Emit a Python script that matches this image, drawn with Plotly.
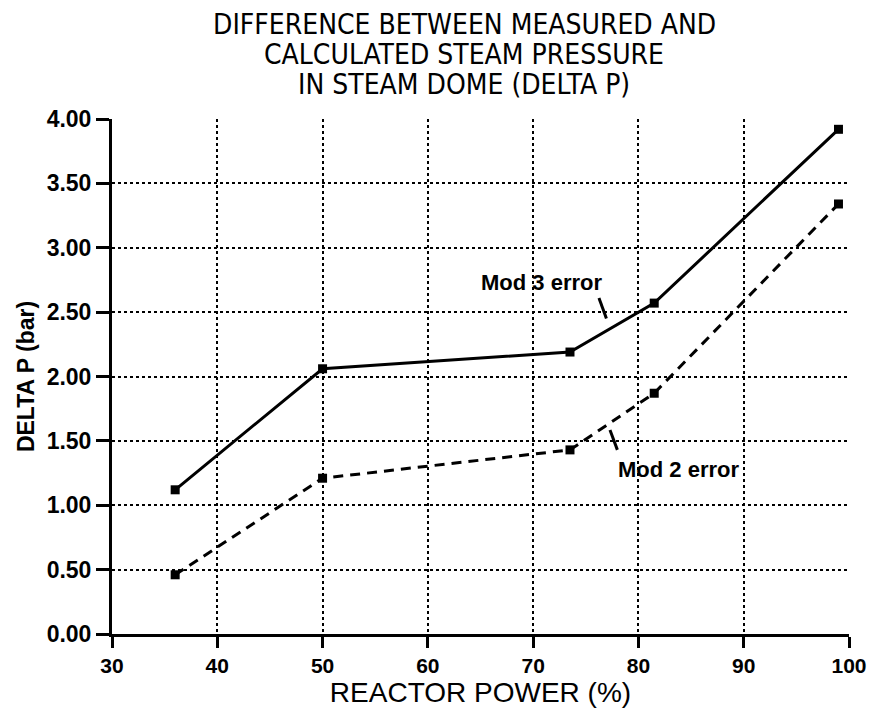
import plotly.graph_objects as go

# ---- data ----
reactor_power = [36.0, 50.0, 73.5, 81.5, 99.0]
mod3_error = [1.12, 2.06, 2.19, 2.57, 3.92]
mod2_error = [0.46, 1.21, 1.43, 1.87, 3.34]

x_ticks = [30, 40, 50, 60, 70, 80, 90, 100]
y_ticks = [0.0, 0.5, 1.0, 1.5, 2.0, 2.5, 3.0, 3.5, 4.0]

title_lines = ["DIFFERENCE BETWEEN MEASURED AND",
               "CALCULATED STEAM PRESSURE",
               "IN STEAM DOME (DELTA P)"]

label_text = ["Mod 3 error", "Mod 2 error"]
label_pos = [(70.8, 2.73), (83.8, 1.28)]
pointer_lines = [((76.25, 2.61), (76.96, 2.45)), ((77.3, 1.585), (78.0, 1.43))]

SANS = "Liberation Sans, Arial"
NARROW = "Liberation Sans Narrow, DejaVu Sans Condensed, Liberation Sans, Arial"

# page body has an 8px margin: figure is sized/offset to compensate
W, H = 870, 705
ML, MR, MT, MB = 104, 29, 111, 79
plot_h = H - MT - MB

fig = go.Figure()
fig.add_trace(go.Scatter(x=reactor_power, y=mod3_error, mode="lines+markers",
                         line=dict(color="black", width=3),
                         marker=dict(symbol="square", size=9, color="black"),
                         name="Mod 3 error", showlegend=False))
fig.add_trace(go.Scatter(x=reactor_power, y=mod2_error, mode="lines+markers",
                         line=dict(color="black", width=3, dash="10px,7px"),
                         marker=dict(symbol="square", size=9, color="black"),
                         name="Mod 2 error", showlegend=False))

annotations = []
title_centers_px = [16, 46, 76]  # vertical centres in figure pixels
for line, cy in zip(title_lines, title_centers_px):
    annotations.append(dict(text=line, xref="paper", yref="paper",
                            x=0.478, y=(H - MB - cy) / plot_h, showarrow=False,
                            xanchor="center", yanchor="middle",
                            font=dict(family=NARROW, size=28, color="black")))
for txt, (lx, ly) in zip(label_text, label_pos):
    annotations.append(dict(text="<b>" + txt + "</b>", x=lx, y=ly, xref="x", yref="y",
                            showarrow=False, xanchor="center", yanchor="middle",
                            font=dict(family=SANS, size=22, color="black")))

shapes = []
for (p0, p1) in pointer_lines:
    shapes.append(dict(type="line", xref="x", yref="y", x0=p0[0], y0=p0[1],
                       x1=p1[0], y1=p1[1], line=dict(color="black", width=3)))

fig.update_layout(
    width=W, height=H,
    margin=dict(l=ML, r=MR, t=MT, b=MB),
    paper_bgcolor="white", plot_bgcolor="white",
    annotations=annotations, shapes=shapes,
    xaxis=dict(range=[30, 100], tickvals=x_ticks, automargin=False,
               showgrid=True, gridcolor="black", gridwidth=2, griddash="dot",
               showline=True, linecolor="black", linewidth=3, mirror=False,
               ticks="outside", ticklen=11, tickwidth=3, tickcolor="black",
               tickfont=dict(family=SANS, size=21, color="black", weight="bold"),
               title=dict(text="REACTOR POWER (%)", standoff=0,
                          font=dict(family=SANS, size=28, color="black")),
               zeroline=False),
    yaxis=dict(range=[0, 4], tickvals=y_ticks, tickformat=".2f", automargin=False,
               showgrid=True, gridcolor="black", gridwidth=2, griddash="dot",
               showline=True, linecolor="black", linewidth=3, mirror=False,
               ticks="outside", ticklen=13, tickwidth=3, tickcolor="black",
               tickfont=dict(family=SANS, size=23, color="black", weight="bold"),
               title=dict(text="<b>DELTA P (bar)</b>", standoff=6,
                          font=dict(family=SANS, size=23, color="black")),
               zeroline=False),
)

fig.write_html("out.html")
